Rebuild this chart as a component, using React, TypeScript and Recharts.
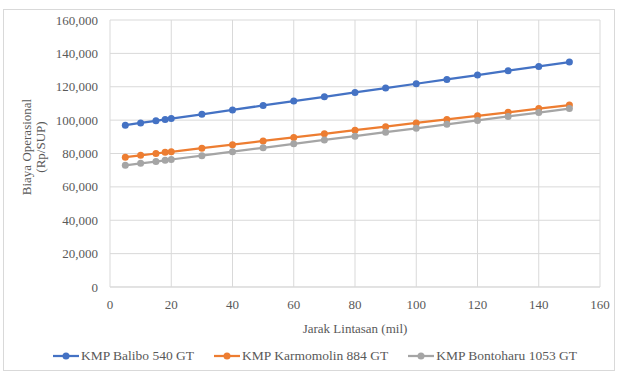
import React from 'react';
import { LineChart, Line, XAxis, YAxis, CartesianGrid } from 'recharts';

// jarak lintasan (mil)
const jarak = [5, 10, 15, 18, 20, 30, 40, 50, 60, 70, 80, 90, 100, 110, 120, 130, 140, 150];

// biaya operasional per kapal (Rp/SUP)
const balibo = [97000, 98300, 99600, 100400, 100900, 103500, 106100, 108800, 111400, 114000, 116600, 119200, 121800, 124400, 127000, 129600, 132200, 134800];
const karmomolin = [77800, 78900, 80000, 80700, 81000, 83200, 85300, 87500, 89600, 91800, 94000, 96100, 98300, 100400, 102600, 104700, 106900, 109000];
const bontoharu = [72900, 74100, 75200, 75900, 76400, 78700, 81100, 83400, 85800, 88100, 90400, 92800, 95100, 97500, 99800, 102200, 104500, 106900];

const xTicks = [0, 20, 40, 60, 80, 100, 120, 140, 160];
const yTicks = [0, 20000, 40000, 60000, 80000, 100000, 120000, 140000, 160000];

const series = [
  { key: 'balibo', name: 'KMP Balibo 540 GT', color: '#4472C4' },
  { key: 'karmomolin', name: 'KMP Karmomolin 884 GT', color: '#ED7D31' },
  { key: 'bontoharu', name: 'KMP Bontoharu 1053 GT', color: '#A5A5A5' },
];

const data = jarak.map((x, i) => ({
  jarak: x,
  balibo: balibo[i],
  karmomolin: karmomolin[i],
  bontoharu: bontoharu[i],
}));

const font = 'Liberation Serif';
const tickStyle = { fontSize: 13, fill: '#595959', fontFamily: font };

const YLabel = () => (
  <text
    transform="translate(34,147) rotate(-90)"
    textAnchor="middle"
    fontSize={13}
    fill="#595959"
    fontFamily={font}
  >
    <tspan x={0} dy={-3}>Biaya Operasional</tspan>
    <tspan x={0} dy={14}>(Rp/SUP)</tspan>
  </text>
);

export default function App() {
  return (
    <div style={{ position: 'absolute', left: 0, top: 0, width: 619, height: 374, background: '#fff', fontFamily: font }}>
      <div
        style={{
          position: 'absolute',
          left: 3,
          top: 9,
          width: 612,
          height: 362,
          border: '1px solid #d9d9d9',
          boxSizing: 'border-box',
        }}
      />
      <div style={{ position: 'absolute', left: 0, top: 0 }}>
        <LineChart width={619} height={374} data={data} margin={{ top: 20, right: 19, bottom: 37, left: 0 }}>
          <CartesianGrid stroke="#d9d9d9" vertical horizontal />
          <XAxis
            dataKey="jarak"
            type="number"
            domain={[0, 160]}
            ticks={xTicks}
            tick={tickStyle}
            tickLine={false}
            tickMargin={7}
            axisLine={{ stroke: '#d9d9d9' }}
            height={50}
            label={{
              value: 'Jarak Lintasan (mil)',
              position: 'insideBottom',
              offset: 4,
              style: { fontSize: 13, fill: '#595959', fontFamily: font },
            }}
          />
          <YAxis
            type="number"
            domain={[0, 160000]}
            ticks={yTicks}
            tick={tickStyle}
            tickLine={false}
            tickMargin={6}
            axisLine={false}
            width={110}
            tickFormatter={(v: number) => v.toLocaleString('en-US')}
            label={<YLabel />}
          />
          {series.map((s) => (
            <Line
              key={s.key}
              type="linear"
              dataKey={s.key}
              name={s.name}
              stroke={s.color}
              strokeWidth={2.25}
              dot={{ r: 3.5, fill: s.color, stroke: s.color, strokeWidth: 0 }}
              isAnimationActive={false}
            />
          ))}
        </LineChart>
      </div>
      <div
        style={{
          position: 'absolute',
          left: 0,
          top: 348,
          width: 630,
          display: 'flex',
          justifyContent: 'center',
          gap: 20,
          fontFamily: font,
          fontSize: 13.5,
          color: '#595959',
        }}
      >
        {series.map((s) => (
          <div key={s.key} style={{ display: 'flex', alignItems: 'center' }}>
            <svg width={26} height={10} style={{ marginRight: 2 }}>
              <line x1={0} y1={5} x2={26} y2={5} stroke={s.color} strokeWidth={2.25} />
              <circle cx={13} cy={5} r={3.5} fill={s.color} />
            </svg>
            <span>{s.name}</span>
          </div>
        ))}
      </div>
    </div>
  );
}
